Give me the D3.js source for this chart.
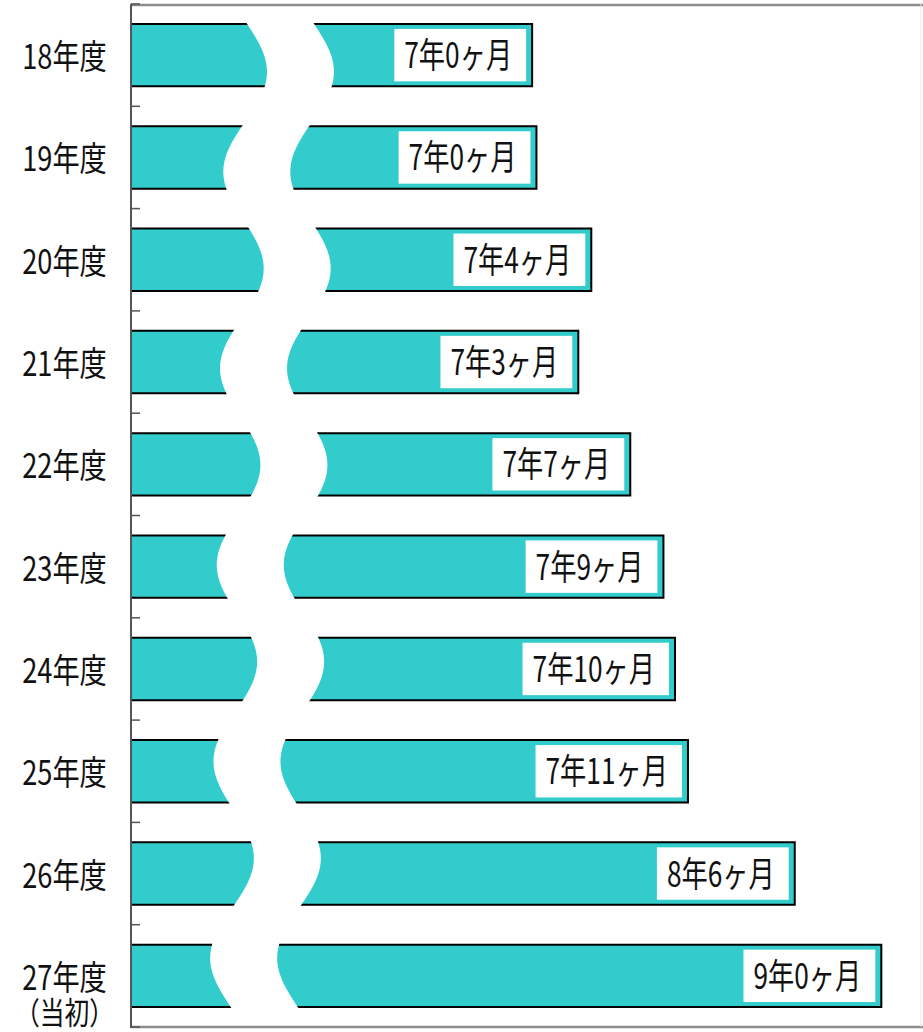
<!DOCTYPE html>
<html><head><meta charset="utf-8">
<script src="https://cdn.jsdelivr.net/npm/d3@7"></script>
<style>body{margin:0;background:#fff}svg{display:block}</style>
</head><body><svg id="c" width="923" height="1032"></svg>
<script>
// ---- data ----
const categories = ["18年度","19年度","20年度","21年度","22年度","23年度","24年度","25年度","26年度","27年度\n（当初）"];
const months = [83.8, 84.1, 87.9, 87.0, 90.6, 92.9, 93.7, 94.6, 102.0, 108.0]; // duration in months
const valueLabels = ["7年0ヶ月","7年0ヶ月","7年4ヶ月","7年3ヶ月","7年7ヶ月","7年9ヶ月","7年10ヶ月","7年11ヶ月","8年6ヶ月","9年0ヶ月"];
const xDomain = [56, 110.75]; // truncated axis (months)

// ---- layout ----
const svg = d3.select("#c");
const plot = {left:131, right:921, top:4, bottom:1027};
const FONT = "'Noto Sans CJK JP','Noto Sans CJK SC',sans-serif";
const TEAL = "#33CCCC";

const x = d3.scaleLinear().domain(xDomain).range([plot.left, plot.right]);
const y = d3.scaleBand().domain(categories).range([plot.top, plot.bottom])
  .paddingInner(0.39).paddingOuter(0.195);
const bw = y.bandwidth();

svg.append("rect").attr("width",923).attr("height",1032).attr("fill","#fff");

const data = categories.map((c,i)=>({c, v:months[i], label:valueLabels[i]}));

// bars
svg.append("g").selectAll("rect").data(data).join("rect")
  .attr("x", plot.left).attr("y", d=>y(d.c))
  .attr("width", d=>x(d.v)-plot.left).attr("height", bw)
  .attr("fill", TEAL);

// outlines (top, right, bottom)
svg.append("g").selectAll("path").data(data).join("path")
  .attr("d", d=>{
    const t=y(d.c), b=t+bw, e=x(d.v);
    return `M${plot.left},${t}H${e}V${b}H${plot.left}`;
  })
  .attr("fill","none").attr("stroke","#000").attr("stroke-width",2);

// axis break (wavy white band)
const A = 21, P = 196.6, Y0 = 72.6, GAP = 67;
const edge = yy => 246 - 0.0167*(yy-70) + A*Math.cos(2*Math.PI*(yy-Y0)/P);
const ys = d3.range(plot.top+3, plot.bottom-2, 2);
const leftPts = ys.map(yy=>[edge(yy), yy]);
const rightPts = ys.map(yy=>[edge(yy)+GAP, yy]).reverse();
svg.append("path")
  .attr("d", d3.line().curve(d3.curveLinear)(leftPts.concat(rightPts)) + "Z")
  .attr("fill","#fff");

// frame
const frame = svg.append("g");
frame.append("line").attr("x1",plot.left).attr("x2",923).attr("y1",plot.top+1).attr("y2",plot.top+1)
  .attr("stroke","#8c8c8c").attr("stroke-width",2.5);
frame.append("line").attr("x1",plot.left).attr("x2",923).attr("y1",plot.bottom).attr("y2",plot.bottom)
  .attr("stroke","#8c8c8c").attr("stroke-width",2.5);
frame.append("line").attr("x1",plot.right).attr("x2",plot.right).attr("y1",plot.top).attr("y2",plot.bottom)
  .attr("stroke","#e6e6e6").attr("stroke-width",1);

// left axis with inward ticks at category boundaries
const boundaries = d3.range(categories.length+1).map(i=>plot.top + i*y.step());
const axisG = svg.append("g").attr("transform",`translate(${plot.left},0)`);
axisG.append("line").attr("x1",0).attr("x2",0).attr("y1",plot.top).attr("y2",plot.bottom+1)
  .attr("stroke","#555").attr("stroke-width",2);
axisG.selectAll("line.tick").data(boundaries).join("line").attr("class","tick")
  .attr("x1",0).attr("x2",9).attr("y1",d=>d).attr("y2",d=>d)
  .attr("stroke","#555").attr("stroke-width",1.5);

// category labels (multi-line labels as tspans in one text)
const SX = 0.8;
data.forEach(d=>{
  const cy = y(d.c) + bw/2;
  const lines = d.c.split("\n");
  const txt = svg.append("text")
    .attr("transform",`translate(64.5,${cy+14}) scale(${SX},1)`)
    .attr("text-anchor","middle")
    .attr("font-family",FONT).attr("font-size",34).attr("fill","#111");
  lines.forEach((line,k)=>{
    txt.append("tspan").attr("x",0).attr("dy",k===0?0:34)
      .attr("font-size",k===0?34:31).text(line);
  });
});

// value labels with white boxes
const VX = 0.75;
data.forEach(d=>{
  const t = y(d.c), e = x(d.v), cy = t + bw/2;
  const g = svg.append("g");
  const rect = g.append("rect");
  const tx = e - 20;
  const txt = g.append("text")
    .attr("transform",`translate(${tx},${cy+13}) scale(${VX},1)`)
    .attr("text-anchor","end")
    .attr("font-family",FONT).attr("font-size",35).attr("fill","#111")
    .text(d.label);
  const bb = txt.node().getBBox();
  const left = tx + bb.x*VX - 10;
  rect.attr("x",left).attr("y",t+5).attr("width",(e-6)-left).attr("height",bw-10)
    .attr("fill","#fff");
});
</script></body></html>
